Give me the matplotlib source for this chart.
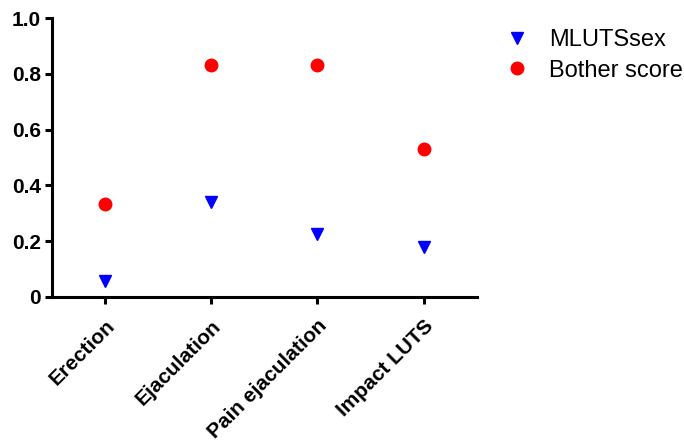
import matplotlib
matplotlib.use("Agg")
import matplotlib.pyplot as plt

plt.rcParams['font.family'] = ['Liberation Sans', 'DejaVu Sans']

categories = ["Erection", "Ejaculation", "Pain ejaculation", "Impact LUTS"]
mlutssex = [0.055, 0.34, 0.225, 0.18]
bother_score = [0.333, 0.833, 0.833, 0.53]

fig = plt.figure(figsize=(6.84, 4.43), dpi=100)
ax = fig.add_axes([0.076, 0.330, 0.621, 0.629])

x = list(range(len(categories)))
ax.plot(x, mlutssex, linestyle='none', marker='v', markersize=9,
        color='#0000ff', label='MLUTSsex')
ax.plot(x, bother_score, linestyle='none', marker='o', markersize=9,
        color='#ff0000', label='Bother score')

ax.set_xlim(-0.5, 3.5)
ax.set_ylim(0, 1.0)
ax.set_yticks([0, 0.2, 0.4, 0.6, 0.8, 1.0])
ax.set_yticklabels(["0", "0.2", "0.4", "0.6", "0.8", "1.0"])
ax.set_xticks(x)
ax.set_xticklabels(categories, rotation=45, ha='right', rotation_mode='anchor')

for lbl in ax.get_xticklabels() + ax.get_yticklabels():
    lbl.set_fontweight('bold')
    lbl.set_fontsize(15)

ax.spines['top'].set_visible(False)
ax.spines['right'].set_visible(False)
ax.spines['left'].set_linewidth(2.2)
ax.spines['bottom'].set_linewidth(2.2)
ax.tick_params(axis='both', width=2.2, length=5, direction='out', pad=3)
ax.tick_params(axis='x', pad=9)

ax.legend(loc='upper left', bbox_to_anchor=(1.04, 0.96), frameon=False,
          fontsize=17, handlelength=2.0, handletextpad=0.36,
          labelspacing=0.35, borderaxespad=0, borderpad=0)

fig.savefig("out.png", dpi=100)
